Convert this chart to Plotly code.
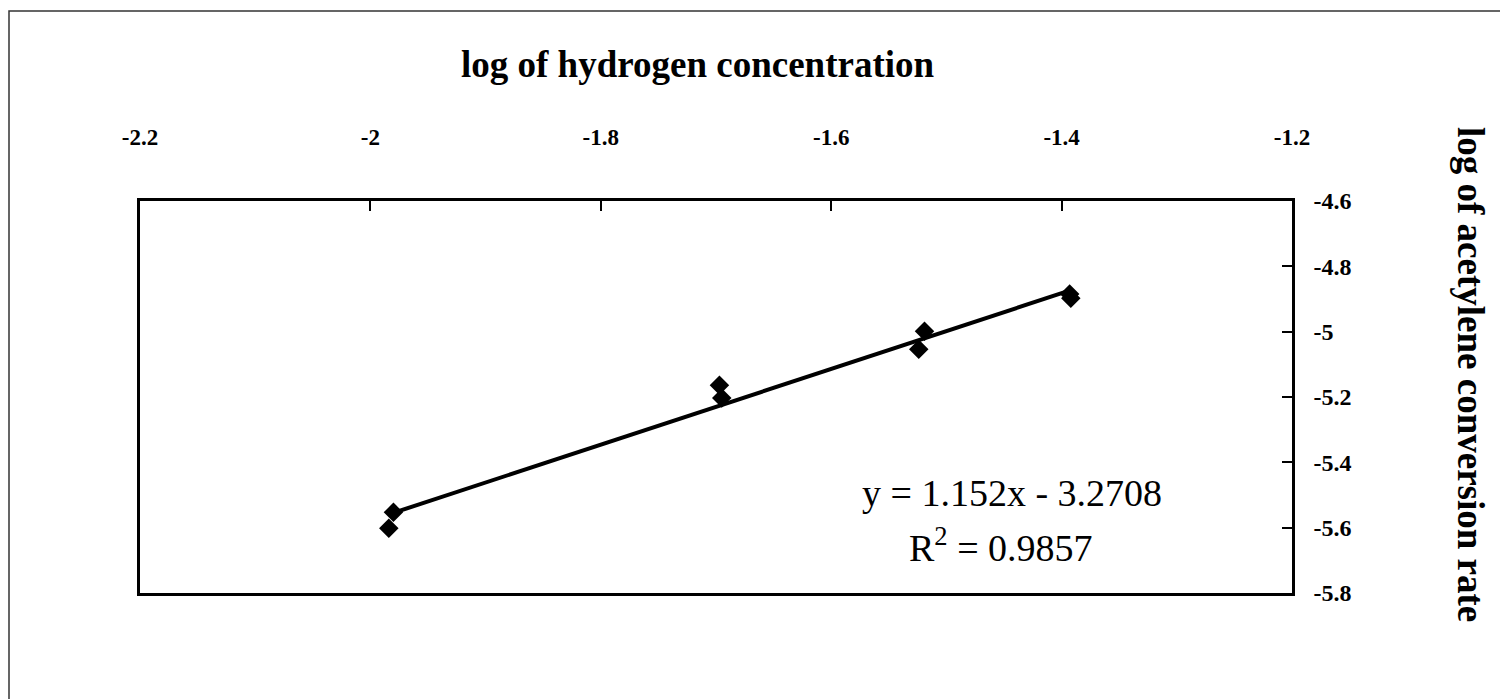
"""
Log-log plot of acetylene conversion rate against hydrogen concentration,
with a linear trendline and its equation.
"""

import numpy as np
import plotly.graph_objects as go


# log of hydrogen concentration (x) and log of acetylene conversion rate (y)
h2_log = [-1.984, -1.980, -1.697, -1.695, -1.519, -1.524, -1.393, -1.392]
rate_log = [-5.602, -5.553, -5.164, -5.203, -4.999, -5.054, -4.885, -4.898]

x_ticks = [-2.2, -2.0, -1.8, -1.6, -1.4, -1.2]
x_tick_labels = ['-2.2', '-2', '-1.8', '-1.6', '-1.4', '-1.2']
y_ticks = [-4.6, -4.8, -5.0, -5.2, -5.4, -5.6, -5.8]
y_tick_labels = ['-4.6', '-4.8', '-5', '-5.2', '-5.4', '-5.6', '-5.8']

equation_text = 'y = 1.152x - 3.2708'
r2_text = 'R<sup>2</sup> = 0.9857'

WIDTH, HEIGHT = 1508, 699
PAGE_OFFSET = 7  # the browser page puts the figure a few px in from the corner
# plot area wanted on the page: x 138..1291, y 199..592
MARGIN = {
    'l': 139 - PAGE_OFFSET,
    'r': WIDTH - (1291 - PAGE_OFFSET),
    't': 200 - PAGE_OFFSET,
    'b': HEIGHT - (592 - PAGE_OFFSET)
}
SERIF = 'Liberation Serif, Times New Roman, serif'


def px_to_paper(px_x=None, px_y=None):
    """Convert page pixel positions to paper coordinates of the plot area."""
    plot_w = WIDTH - MARGIN['l'] - MARGIN['r']
    plot_h = HEIGHT - MARGIN['t'] - MARGIN['b']
    out = []
    if px_x is not None:
        out.append((px_x - PAGE_OFFSET - MARGIN['l']) / plot_w)
    if px_y is not None:
        out.append((HEIGHT - MARGIN['b'] - (px_y - PAGE_OFFSET)) / plot_h)
    return out[0] if len(out) == 1 else tuple(out)


def axis_style(tickvals, ticktext, side, standoff, size):
    """Common styling for the framed axes with inside ticks."""
    return {
        'side': side,
        'tickvals': tickvals,
        'ticktext': ticktext,
        'ticks': 'inside',
        'ticklen': 10,
        'tickwidth': 2,
        'tickcolor': 'black',
        'ticklabelstandoff': standoff,
        'tickfont': {'family': SERIF, 'size': size, 'color': 'black',
                     'weight': 'bold'},
        'showgrid': False,
        'zeroline': False,
        'showline': True,
        'linecolor': 'black',
        'linewidth': 2.5,
        'mirror': True
    }


fig = go.Figure()

# Trendline fitted on the data, drawn over the data range
slope, intercept = np.polyfit(h2_log, rate_log, 1)
trend_x = np.array([min(h2_log), max(h2_log)])
fig.add_trace(go.Scatter(
    x=trend_x,
    y=slope * trend_x + intercept,
    mode='lines',
    line={'color': 'black', 'width': 4},
    hoverinfo='skip',
    showlegend=False
))

fig.add_trace(go.Scatter(
    x=h2_log,
    y=rate_log,
    mode='markers',
    marker={'symbol': 'diamond', 'size': 15, 'color': 'black'},
    showlegend=False
))

# Outer frame of the figure: only top and left edges are visible
bx0, by_top = px_to_paper(PAGE_OFFSET + 1, 10)
bx1, by_bot = px_to_paper(WIDTH + 20, HEIGHT + 20)
fig.add_shape(
    type='path',
    xref='paper', yref='paper',
    path=f'M {bx0} {by_bot} L {bx0} {by_top} L {bx1} {by_top}',
    line={'color': '#333333', 'width': 1.5}
)

annotations = [
    {
        'text': '<b>log of hydrogen concentration</b>',
        'x': px_to_paper(px_x=697), 'y': px_to_paper(px_y=63),
        'font': {'family': SERIF, 'size': 37, 'color': 'black'},
    },
    {
        'text': '<b>log of acetylene conversion rate</b>',
        'x': px_to_paper(px_x=1470), 'y': px_to_paper(px_y=373),
        'textangle': 90,
        'font': {'family': SERIF, 'size': 37, 'color': 'black'},
    },
    {
        'text': equation_text,
        'x': px_to_paper(px_x=1011), 'y': px_to_paper(px_y=492),
        'font': {'family': SERIF, 'size': 38, 'color': 'black'},
    },
    {
        'text': r2_text,
        'x': px_to_paper(px_x=1000), 'y': px_to_paper(px_y=544),
        'font': {'family': SERIF, 'size': 38, 'color': 'black'},
    },
]
for ann in annotations:
    ann.update({'xref': 'paper', 'yref': 'paper', 'showarrow': False,
                'xanchor': 'center', 'yanchor': 'middle'})

fig.update_layout(
    width=WIDTH,
    height=HEIGHT,
    margin=MARGIN,
    plot_bgcolor='white',
    paper_bgcolor='white',
    annotations=annotations,
    xaxis={'range': [-2.2, -1.2],
           **axis_style(x_ticks, x_tick_labels, 'top', 44, 23)},
    yaxis={'range': [-5.8, -4.6],
           **axis_style(y_ticks, y_tick_labels, 'right', 14, 24)}
)

fig.write_html("out.html")
